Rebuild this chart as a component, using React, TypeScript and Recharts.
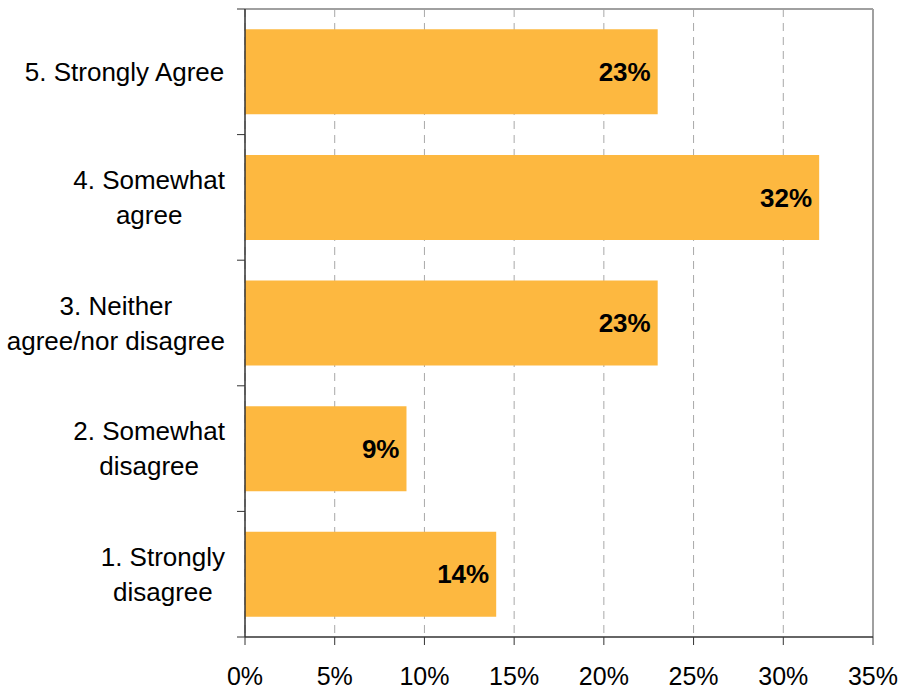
import React from "react";
import { BarChart, Bar, XAxis, YAxis, CartesianGrid, LabelList, ReferenceLine } from "recharts";

const categories: string[][] = [
  ["5. Strongly Agree"],
  ["4. Somewhat", "agree"],
  ["3. Neither", "agree/nor disagree"],
  ["2. Somewhat", "disagree"],
  ["1. Strongly", "disagree"],
];
const values: number[] = [23, 32, 23, 9, 14];
const xTicks: number[] = [0, 5, 10, 15, 20, 25, 30, 35];

const data = categories.map((lines, i) => ({ name: lines.join("\n"), value: values[i] }));

const W = 901;
const H = 689;
const MARGIN = { top: 9, right: 28, bottom: 0, left: 0 };
const YAXIS_W = 245;
const XAXIS_H = 52;
const PLOT_H = H - MARGIN.top - MARGIN.bottom - XAXIS_H;
const BAND = PLOT_H / categories.length;
const FONT = "'Liberation Sans', Arial, sans-serif";
const Y_FONT_SIZE = 26;
const LINE_GAP = 35;

let measureCtx: CanvasRenderingContext2D | null = null;
function textWidth(s: string): number {
  if (!measureCtx) {
    const c = document.createElement("canvas");
    measureCtx = c.getContext("2d");
  }
  if (!measureCtx) return s.length * Y_FONT_SIZE * 0.5;
  measureCtx.font = `${Y_FONT_SIZE}px 'Liberation Sans', Arial, sans-serif`;
  return measureCtx.measureText(s).width;
}

const YTick = (props: any) => {
  const { x, y, payload, index } = props;
  const lines: string[] = String(payload.value).split("\n");
  const maxW = Math.max(...lines.map(textWidth));
  const cx = x - maxW / 2;
  const n = lines.length;
  const cap = Y_FONT_SIZE * 0.716 / 2;
  const axisX = MARGIN.left + YAXIS_W;
  return (
    <g>
      <line x1={axisX - 8} x2={axisX} y1={y - BAND / 2} y2={y - BAND / 2} stroke="#333" strokeWidth={1} />
      {index === categories.length - 1 && (
        <line x1={axisX - 8} x2={axisX} y1={y + BAND / 2} y2={y + BAND / 2} stroke="#333" strokeWidth={1} />
      )}
      {lines.map((ln, i) => (
        <text
          key={i}
          x={cx}
          y={y + (i - (n - 1) / 2) * LINE_GAP + cap}
          textAnchor="middle"
          fontSize={Y_FONT_SIZE}
          fontFamily={FONT}
          fill="#000"
        >
          {ln}
        </text>
      ))}
    </g>
  );
};

export default function App() {
  return (
    <div style={{ position: "absolute", left: 0, top: 0, width: W, height: H, background: "#fff" }}>
      <BarChart width={W} height={H} data={data} layout="vertical" margin={MARGIN} barCategoryGap="16.2%">
        <CartesianGrid horizontal={false} vertical={true} stroke="#A8A8A8" strokeDasharray="8 6" />
        <CartesianGrid
          horizontal={true}
          vertical={false}
          horizontalPoints={[MARGIN.top]}
          stroke="#A0A0A0"
          strokeWidth={2}
        />
        <XAxis
          type="number"
          domain={[0, 35]}
          ticks={xTicks}
          interval={0}
          tickFormatter={(v: number) => `${v}%`}
          height={XAXIS_H}
          axisLine={{ stroke: "#333", strokeWidth: 1.5 }}
          tickLine={{ stroke: "#333" }}
          tickSize={8}
          tickMargin={22}
          tick={{ fontSize: 25, fontFamily: FONT, fill: "#000" }}
        />
        <YAxis
          type="category"
          dataKey="name"
          width={YAXIS_W}
          axisLine={{ stroke: "#333", strokeWidth: 1.5 }}
          tickLine={false}
          tickSize={8}
          tickMargin={12}
          interval={0}
          tick={<YTick />}
        />
        <ReferenceLine x={35} stroke="#A0A0A0" strokeWidth={2} />
        <Bar dataKey="value" fill="#FDB840" isAnimationActive={false}>
          <LabelList
            dataKey="value"
            position="insideRight"
            offset={7}
            formatter={(v: any) => `${v}%`}
            style={{ fontSize: 26, fontWeight: "bold", fontFamily: FONT, fill: "#000" }}
          />
        </Bar>
      </BarChart>
    </div>
  );
}
